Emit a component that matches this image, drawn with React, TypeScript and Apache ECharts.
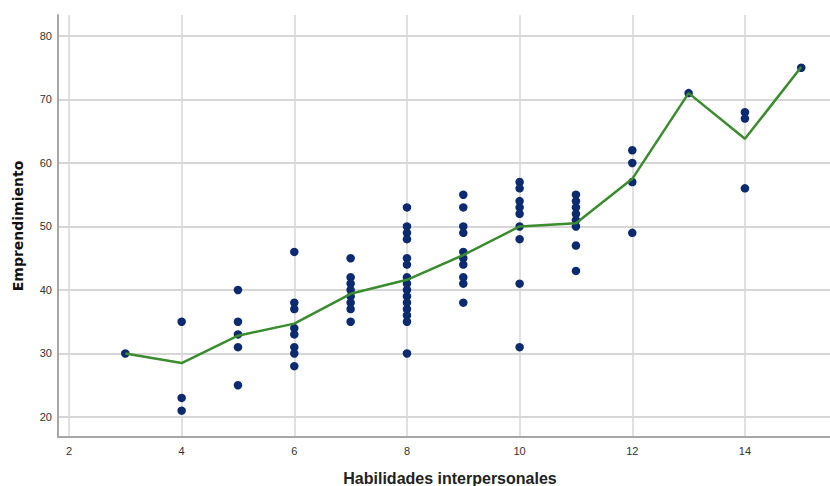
import React, { useEffect, useRef } from "react";
import * as echarts from "echarts";

// Scatter points: x = Habilidades interpersonales, y = Emprendimiento
const pointX = [
  3,
  4, 4, 4,
  5, 5, 5, 5, 5,
  6, 6, 6, 6, 6, 6, 6, 6,
  7, 7, 7, 7, 7, 7, 7, 7,
  8, 8, 8, 8, 8, 8, 8, 8, 8, 8, 8, 8, 8, 8, 8,
  9, 9, 9, 9, 9, 9, 9, 9, 9, 9,
  10, 10, 10, 10, 10, 10, 10, 10, 10,
  11, 11, 11, 11, 11, 11, 11, 11,
  12, 12, 12, 12,
  13,
  14, 14, 14,
  15,
];
const pointY = [
  30,
  35, 23, 21,
  40, 35, 33, 31, 25,
  46, 38, 37, 34, 33, 31, 30, 28,
  45, 42, 41, 40, 39, 38, 37, 35,
  53, 50, 49, 48, 45, 44, 42, 41, 40, 39, 38, 37, 36, 35, 30,
  55, 53, 50, 49, 46, 45, 44, 42, 41, 38,
  57, 56, 54, 53, 52, 50, 48, 41, 31,
  55, 54, 53, 52, 51, 50, 47, 43,
  62, 60, 57, 49,
  71,
  68, 67, 56,
  75,
];

// Mean line
const meanX = [3, 4, 5, 6, 7, 8, 9, 10, 11, 12, 13, 14, 15];
const meanY = [30, 28.5, 32.8, 34.7, 39.4, 41.6, 45.5, 50.0, 50.5, 57.5, 71.0, 63.8, 75.1];

// Tick labels
const xTicks = [2, 4, 6, 8, 10, 12, 14];
const yTicks = [20, 30, 40, 50, 60, 70, 80];

const xTitle = "Habilidades interpersonales";
const yTitle = "Emprendimiento";

export default function App() {
  const ref = useRef<HTMLDivElement>(null);

  useEffect(() => {
    if (!ref.current) return;
    const chart = echarts.init(ref.current, undefined, { renderer: "svg" });
    const scatterData = pointX.map((x, i) => [x, pointY[i]]);
    const lineData = meanX.map((x, i) => [x, meanY[i]]);

    chart.setOption({
      animation: false,
      backgroundColor: "#ffffff",
      grid: { left: 58, right: 0, top: 15, bottom: 49, containLabel: false, outerBoundsMode: "none" },
      xAxis: {
        type: "value",
        min: 1.805,
        max: 15.51,
        name: xTitle,
        nameLocation: "middle",
        nameGap: 33,
        nameTextStyle: {
          fontFamily: "Liberation Sans",
          fontSize: 16,
          fontWeight: "bold",
          color: "#222222",
          padding: [0, 0, 0, 12],
        },
        axisLine: { show: true, onZero: false, lineStyle: { color: "#a6a6a6", width: 2 } },
        axisTick: { show: false, customValues: xTicks },
        axisLabel: {
          customValues: xTicks,
          fontFamily: "Liberation Sans",
          fontSize: 11,
          color: "#333333",
          margin: 8,
        },
        splitLine: { show: true, lineStyle: { color: "#d6d6d6", width: 1.5 } },
      },
      yAxis: {
        type: "value",
        min: 16.85,
        max: 83.3,
        name: yTitle,
        nameLocation: "middle",
        nameGap: 33,
        nameTextStyle: {
          fontFamily: "DejaVu Sans",
          fontSize: 14,
          fontWeight: "bold",
          color: "#111111",
        },
        axisLine: { show: true, onZero: false, lineStyle: { color: "#a6a6a6", width: 2 } },
        axisTick: { show: false, customValues: yTicks },
        axisLabel: {
          customValues: yTicks,
          fontFamily: "Liberation Sans",
          fontSize: 11,
          color: "#333333",
          margin: 6,
        },
        splitLine: { show: true, lineStyle: { color: "#c8c8c8", width: 1.5 } },
      },
      series: [
        {
          type: "scatter",
          data: scatterData,
          symbol: "circle",
          symbolSize: 8.5,
          itemStyle: { color: "#0c2a70", opacity: 1 },
          z: 2,
        },
        {
          type: "line",
          data: lineData,
          showSymbol: false,
          symbol: "none",
          lineStyle: { color: "#3a8c2e", width: 2.5 },
          z: 3,
        },
      ],
    });

    return () => {
      chart.dispose();
    };
  }, []);

  return (
    <div
      ref={ref}
      style={{ position: "fixed", left: 0, top: 0, width: 830, height: 486 }}
    />
  );
}
